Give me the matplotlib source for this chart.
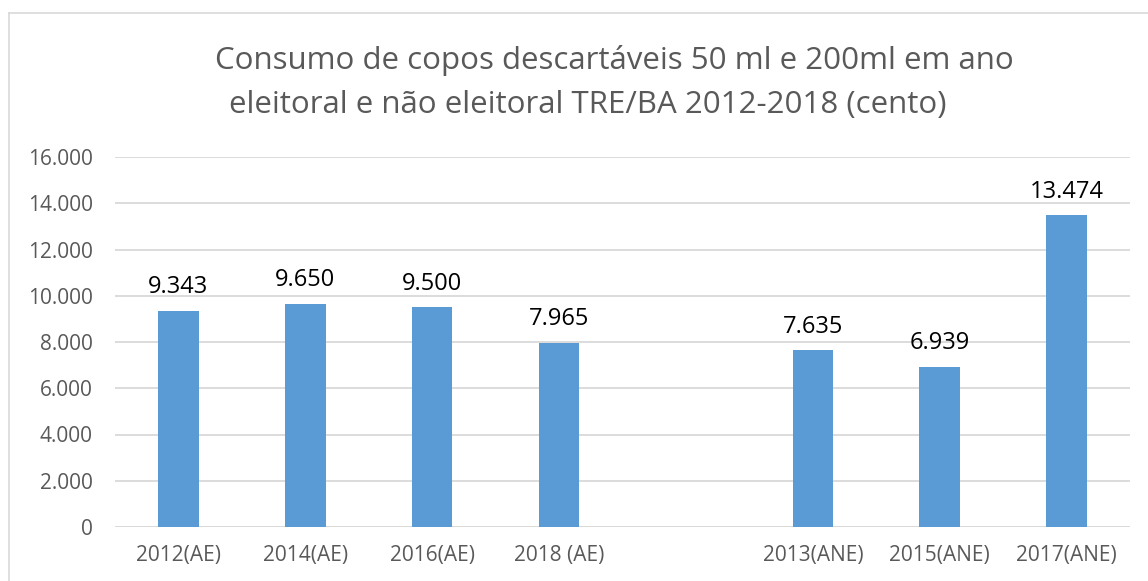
import matplotlib.pyplot as plt
import numpy as np

# dados (cento) - slot vazio entre AE e ANE
categorias = ['2012(AE)', '2014(AE)', '2016(AE)', '2018 (AE)', '',
              '2013(ANE)', '2015(ANE)', '2017(ANE)']
valores = [9343, 9650, 9500, 7965, np.nan, 7635, 6939, 13474]
rotulos = ['9.343', '9.650', '9.500', '7.965', '', '7.635', '6.939', '13.474']
yticks = [0, 2000, 4000, 6000, 8000, 10000, 12000, 14000, 16000]
ytick_labels = ['0', '2.000', '4.000', '6.000', '8.000', '10.000',
                '12.000', '14.000', '16.000']
titulo = ['Consumo de copos descartáveis 50 ml e 200ml em ano',
          'eleitoral e não eleitoral TRE/BA 2012-2018 (cento)']

plt.rcParams['font.family'] = ['Open Sans', 'DejaVu Sans']

W, H = 1148, 581
fig = plt.figure(figsize=(W / 100, H / 100), dpi=100)
ax = fig.add_axes([115 / W, 1 - 527 / H, (1130 - 115) / W, (527 - 157) / H])

x = np.arange(len(categorias))
bars = ax.bar(x, valores, width=0.32, color='#5b9bd5', zorder=3)

for xi, v, lab in zip(x, valores, rotulos):
    if np.isnan(v):
        continue
    ax.annotate(lab, (xi, v), xytext=(0, 8.5), textcoords='offset points',
                ha='center', va='bottom', fontsize=17, color='black')

ax.set_xlim(-0.5, len(categorias) - 0.5)
ax.set_ylim(0, 16000)
ax.set_yticks(yticks)
ax.set_yticklabels(ytick_labels)
ax.set_xticks(x)
ax.set_xticklabels(categorias)
ax.tick_params(axis='y', length=0, pad=16, labelsize=15, labelcolor='#595959')
ax.tick_params(axis='x', length=0, pad=13, labelsize=15, labelcolor='#595959')
ax.grid(axis='y', color='#d9d9d9', linewidth=1.3, zorder=0)
for s in ax.spines.values():
    s.set_visible(False)
ax.axhline(0, color='#d9d9d9', linewidth=1.3, zorder=2)

fig.text(614 / W, 1 - 60 / H, titulo[0], ha='center', va='center',
         fontsize=22.5, color='#595959')
fig.text(588 / W, 1 - 105 / H, titulo[1], ha='center', va='center',
         fontsize=22.5, color='#595959')

# moldura do gráfico
fig.add_artist(plt.Line2D([9 / W, 1], [1 - 13 / H, 1 - 13 / H],
                          color='#d9d9d9', linewidth=1.2, transform=fig.transFigure))
fig.add_artist(plt.Line2D([9 / W, 9 / W], [0, 1 - 13 / H],
                          color='#d9d9d9', linewidth=1.2, transform=fig.transFigure))

fig.savefig('out.png', dpi=100, facecolor='white')
